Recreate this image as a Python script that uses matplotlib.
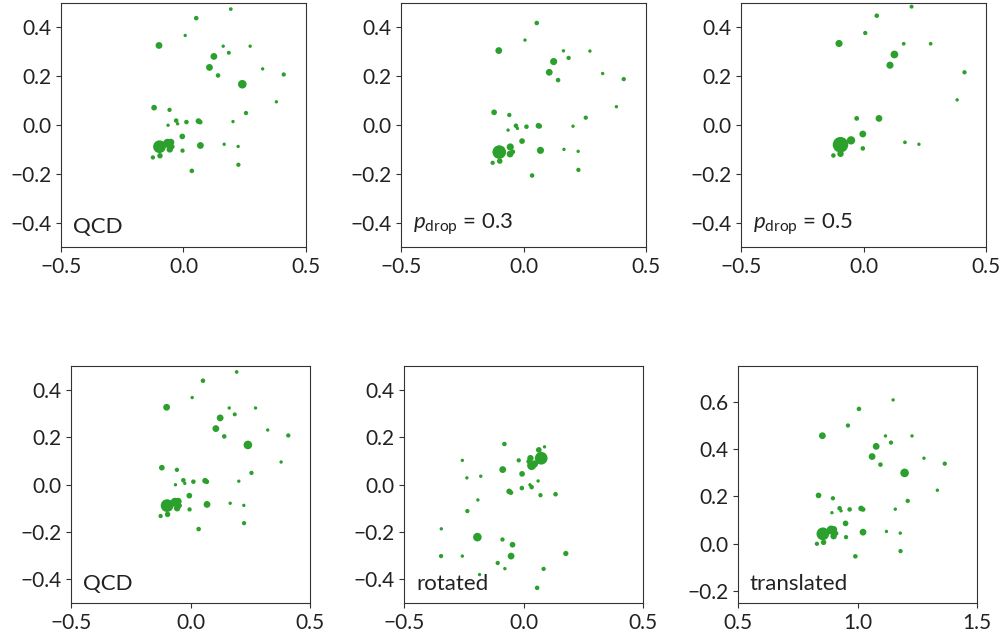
import matplotlib
matplotlib.use("Agg")
import matplotlib.pyplot as plt
import numpy as np

plt.rcParams['font.family'] = ['Lato', 'DejaVu Sans']
plt.rcParams['mathtext.fontset'] = 'custom'
plt.rcParams['mathtext.rm'] = 'Lato'
plt.rcParams['mathtext.it'] = 'Lato:italic'

GREEN = '#2ca02c'

# QCD jet constituents (eta, phi) and marker size
qcd_x = [0.193, 0.052, 0.007, -0.100, 0.162, 0.272, 0.124, 0.185, 0.106, 0.141,
         0.323, 0.409, 0.240, 0.379, -0.120, -0.057, 0.255, -0.030, -0.024, -0.063,
         0.012, 0.061, 0.068, 0.202, -0.005, -0.098, -0.065, -0.052, -0.046, -0.056,
         0.069, -0.004, 0.166, 0.223, -0.096, -0.125, 0.224, 0.034]
qcd_y = [0.475, 0.438, 0.367, 0.326, 0.323, 0.323, 0.281, 0.296, 0.236, 0.203,
         0.230, 0.207, 0.167, 0.095, 0.071, 0.062, 0.049, 0.018, 0.005, -0.001,
         0.012, 0.016, 0.012, 0.014, -0.047, -0.089, -0.075, -0.071, -0.089, -0.100,
         -0.084, -0.105, -0.079, -0.088, -0.126, -0.133, -0.163, -0.188]
qcd_s = [6, 9, 5, 20, 5, 5, 20, 7, 20, 9,
         5, 8, 32, 5, 14, 8, 8, 9, 5, 5,
         9, 14, 10, 5, 14, 70, 35, 22, 10, 18,
         20, 8, 5, 5, 13, 8, 8, 9]

# p_drop = 0.3
d3_x = [0.054, 0.006, -0.101, 0.163, 0.271, 0.123, 0.184, 0.105, 0.141, 0.323,
        0.409, 0.379, -0.120, -0.058, 0.254, -0.031, -0.025, -0.063, 0.012, 0.061,
        0.066, 0.202, -0.006, -0.099, -0.054, -0.044, -0.055, 0.069, 0.165, 0.223,
        -0.097, -0.126, 0.224, 0.035]
d3_y = [0.418, 0.348, 0.305, 0.304, 0.303, 0.260, 0.275, 0.216, 0.184, 0.211,
        0.188, 0.075, 0.052, 0.041, 0.030, -0.003, -0.014, -0.021, -0.007, -0.003,
        -0.005, -0.005, -0.066, -0.111, -0.090, -0.110, -0.119, -0.104, -0.100, -0.108,
        -0.148, -0.155, -0.184, -0.207]
d3_s = [9, 5, 20, 5, 5, 22, 8, 20, 9, 5,
        8, 5, 14, 8, 8, 9, 5, 5, 9, 14,
        10, 5, 14, 80, 22, 10, 20, 22, 5, 5,
        13, 8, 8, 9]

# p_drop = 0.5
d5_x = [0.196, 0.054, 0.007, -0.100, 0.164, 0.274, 0.126, 0.108, 0.412, 0.382,
        -0.028, 0.063, -0.003, -0.051, -0.094, -0.094, -0.003, -0.123, 0.169, 0.226]
d5_y = [0.485, 0.448, 0.377, 0.334, 0.333, 0.333, 0.289, 0.245, 0.216, 0.103,
        0.027, 0.027, -0.037, -0.063, -0.081, -0.118, -0.096, -0.125, -0.071, -0.079]
d5_s = [7, 9, 8, 22, 6, 6, 26, 22, 8, 5,
        10, 20, 20, 30, 105, 18, 9, 9, 6, 5]

# rotated
rot_x = [-0.080, 0.088, 0.064, 0.074, 0.029, 0.022, 0.034, 0.046, -0.020, -0.256,
         -0.087, -0.006, -0.179, -0.237, 0.061, 0.027, 0.034, -0.007, -0.060, -0.053,
         0.071, 0.134, -0.191, -0.235, -0.344, -0.193, -0.088, -0.046, -0.345, -0.256,
         -0.052, 0.177, -0.108, -0.078, 0.084, -0.184, 0.057]
rot_y = [0.171, 0.159, 0.146, 0.111, 0.111, 0.097, 0.080, 0.087, 0.102, 0.102,
         0.063, 0.045, 0.035, 0.028, 0.015, -0.001, -0.011, -0.015, -0.029, -0.034,
         -0.045, -0.041, -0.065, -0.112, -0.187, -0.222, -0.232, -0.254, -0.302, -0.302,
         -0.302, -0.291, -0.331, -0.355, -0.356, -0.380, -0.436]
rot_s = [9, 5, 14, 70, 18, 10, 35, 22, 8, 5,
         20, 14, 5, 5, 5, 5, 9, 9, 14, 10,
         8, 9, 5, 8, 5, 32, 8, 14, 8, 5,
         20, 12, 8, 5, 8, 5, 9]

# translated
tr_x = [1.149, 1.006, 0.960, 0.853, 1.117, 1.228, 1.078, 1.140, 1.061, 1.096,
        1.278, 1.365, 1.197, 1.334, 0.837, 0.897, 1.210, 0.925, 0.931, 0.893,
        0.967, 1.015, 1.023, 1.158, 0.950, 0.855, 0.890, 0.900, 0.910, 0.900,
        1.023, 0.952, 1.121, 1.179, 0.858, 0.830, 1.180, 0.991]
tr_y = [0.607, 0.569, 0.499, 0.456, 0.455, 0.455, 0.411, 0.427, 0.368, 0.334,
        0.361, 0.338, 0.299, 0.226, 0.204, 0.192, 0.181, 0.150, 0.139, 0.131,
        0.145, 0.149, 0.145, 0.146, 0.086, 0.042, 0.058, 0.060, 0.044, 0.032,
        0.049, 0.028, 0.052, 0.045, 0.006, 0.000, -0.031, -0.053]
tr_s = [5, 9, 8, 20, 5, 5, 20, 8, 20, 9,
        5, 8, 32, 5, 14, 8, 8, 9, 5, 5,
        9, 14, 10, 5, 14, 70, 35, 22, 10, 18,
        20, 8, 5, 5, 13, 8, 8, 9]

panels = [
    (qcd_x, qcd_y, qcd_s, 'QCD', (-0.5, 0.5), (-0.5, 0.5)),
    (d3_x, d3_y, d3_s, r'$p_{\mathrm{drop}}$ = 0.3', (-0.5, 0.5), (-0.5, 0.5)),
    (d5_x, d5_y, d5_s, r'$p_{\mathrm{drop}}$ = 0.5', (-0.5, 0.5), (-0.5, 0.5)),
    (qcd_x, qcd_y, qcd_s, 'QCD', (-0.5, 0.5), (-0.5, 0.5)),
    (rot_x, rot_y, rot_s, 'rotated', (-0.5, 0.5), (-0.5, 0.5)),
    (tr_x, tr_y, tr_s, 'translated', (0.5, 1.5), (-0.25, 0.75)),
]

positions = [
    [0.0608, 0.6135, 0.2443, 0.3818],
    [0.3998, 0.6135, 0.2443, 0.3818],
    [0.7388, 0.6135, 0.2443, 0.3818],
    [0.0708, 0.0563, 0.2383, 0.3709],
    [0.4028, 0.0563, 0.2383, 0.3709],
    [0.7358, 0.0563, 0.2383, 0.3709],
]

fig = plt.figure(figsize=(10.03, 6.39), dpi=100)

for (x, y, s, label, xl, yl), pos in zip(panels, positions):
    ax = fig.add_axes(pos)
    ax.scatter(x, y, s=np.array(s) * 1.2, color=GREEN, linewidths=0)
    ax.set_xlim(xl)
    ax.set_ylim(yl)
    ax.set_xticks(np.linspace(xl[0], xl[1], 3))
    if yl[0] == -0.25:
        ax.set_yticks([-0.2, 0.0, 0.2, 0.4, 0.6])
    else:
        ax.set_yticks([-0.4, -0.2, 0.0, 0.2, 0.4])
    ax.tick_params(labelsize=15, labelcolor='#222222', color='#333333')
    for sp in ax.spines.values():
        sp.set_color('#333333')
    ax.text(0.05, 0.04, label, transform=ax.transAxes, fontsize=16,
            ha='left', va='bottom', color='#222222')

fig.savefig('out.png', dpi=100)
